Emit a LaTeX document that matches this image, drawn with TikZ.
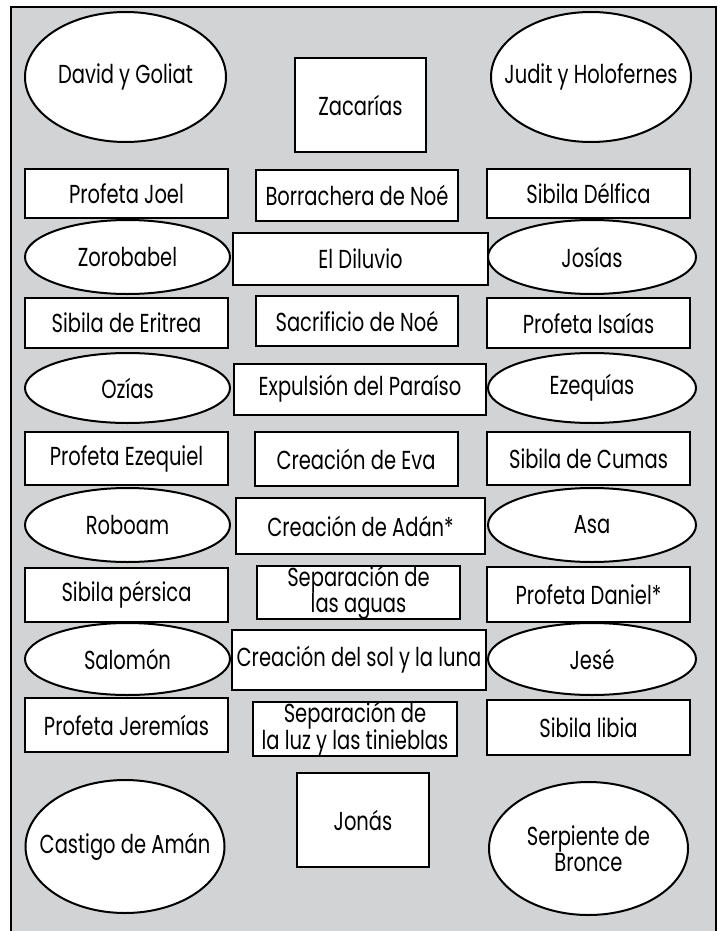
\documentclass[tikz,border=0pt]{standalone}
\usepackage{fontspec}
\setmainfont{Poppins}[FakeStretch=0.75]
\usetikzlibrary{shapes.geometric}
\definecolor{fondo}{HTML}{D1D3D4}
\tikzset{tam/.style 2 args={minimum width=#1, minimum height=#2}}
\begin{document}
\begin{tikzpicture}[x=1pt, y=-1pt,
			every node/.style={font=\fontsize{26}{26}\selectfont, align=center, inner sep=0pt},
			caja/.style={rectangle, draw, fill=white, line width=2pt},
			ovalo/.style={ellipse, draw, fill=white, line width=2pt, inner xsep=-40pt, inner ysep=-10pt}]

		\useasboundingbox (0, 0) rectangle (721, 931);
		\fill[fondo] (11, 7) rectangle (716, 931);
		\draw[line width=1.8pt] (11, 931) -- (11, 7) -- (716, 7) -- (716, 931);

		% arriba
		\node[ovalo, tam={201}{130}] (david) at (125.5, 77) {David y Goliat};
		\node[caja, tam={131}{94}] (zacarias) at (360.5, 105) {Zacarías};
		\node[ovalo, tam={200}{130}] (judit) at (591, 77) {Judit y Holofernes};

		\node[caja, tam={203}{49}] (joel) at (126.5, 193.5) {Profeta Joel};
		\node[caja, tam={202}{51}] (borrachera) at (357, 195) {Borrachera de Noé};
		\node[caja, tam={203}{49}] (delfica) at (588.5, 193.5) {Sibila Délfica};

		\node[ovalo, tam={205}{74}] (zorobabel) at (127.5, 257) {Zorobabel};
		\node[caja, tam={255}{52}] (diluvio) at (360.5, 259) {El Diluvio};
		\node[ovalo, tam={208}{74}] (josias) at (592, 257) {Josías};

		\node[caja, tam={203}{50}] (eritrea) at (126.5, 323) {Sibila de Eritrea};
		\node[caja, tam={202}{50}] (sacrificio) at (357, 321) {Sacrificio de Noé};
		\node[caja, tam={203}{50}] (isaias) at (588.5, 323) {Profeta Isaías};

		\node[ovalo, tam={205}{70}] (ozias) at (127.5, 388) {Ozías};
		\node[caja, tam={252}{51}] (expulsion) at (360, 389) {Expulsión del Paraíso};
		\node[ovalo, tam={208}{70}] (ezequias) at (592, 388) {Ezequías};

		% centro
		\node[caja, tam={203}{53}] (ezequiel) at (126.5, 458.5) {Profeta Ezequiel};
		\node[caja, tam={203}{54}] (eva) at (356, 459) {Creación de Eva};
		\node[caja, tam={203}{53}] (cumas) at (588.5, 458.5) {Sibila de Cumas};

		\node[ovalo, tam={205}{74}] (roboam) at (127.5, 525) {Roboam};
		\node[caja, tam={249}{56}] (adan) at (360.5, 526) {Creación de Adán*};
		\node[ovalo, tam={208}{74}] (asa) at (592, 525) {Asa};

		\node[caja, tam={203}{54}] (persica) at (126.5, 595) {Sibila pérsica};
		\node[caja, tam={203}{51}] (aguas) at (358.5, 592.5) {Separación de\\las aguas};
		\node[caja, tam={203}{55}] (daniel) at (588.5, 594.5) {Profeta Daniel*};

		\node[ovalo, tam={205}{72}] (salomon) at (127.5, 659) {Salomón};
		\node[caja, tam={254}{60}] (sol) at (359, 660) {Creación del sol y la luna};
		\node[ovalo, tam={208}{72}] (jese) at (592, 659) {Jesé};

		% abajo
		\node[caja, tam={203}{54}] (jeremias) at (126.5, 725) {Profeta Jeremías};
		\node[caja, tam={204}{52}] (luz) at (355, 729) {Separación de\\la luz y las tinieblas};
		\node[caja, tam={203}{55}] (libia) at (588.5, 727.5) {Sibila libia};

		\node[ovalo, tam={199}{133}] (castigo) at (125, 846.5) {Castigo de Amán};
		\node[caja, tam={132}{94}] (jonas) at (363, 820) {Jonás};
		\node[ovalo, tam={199}{133}] (serpiente) at (588.5, 848.5) {Serpiente de\\Bronce};
	\end{tikzpicture}
\end{document}
